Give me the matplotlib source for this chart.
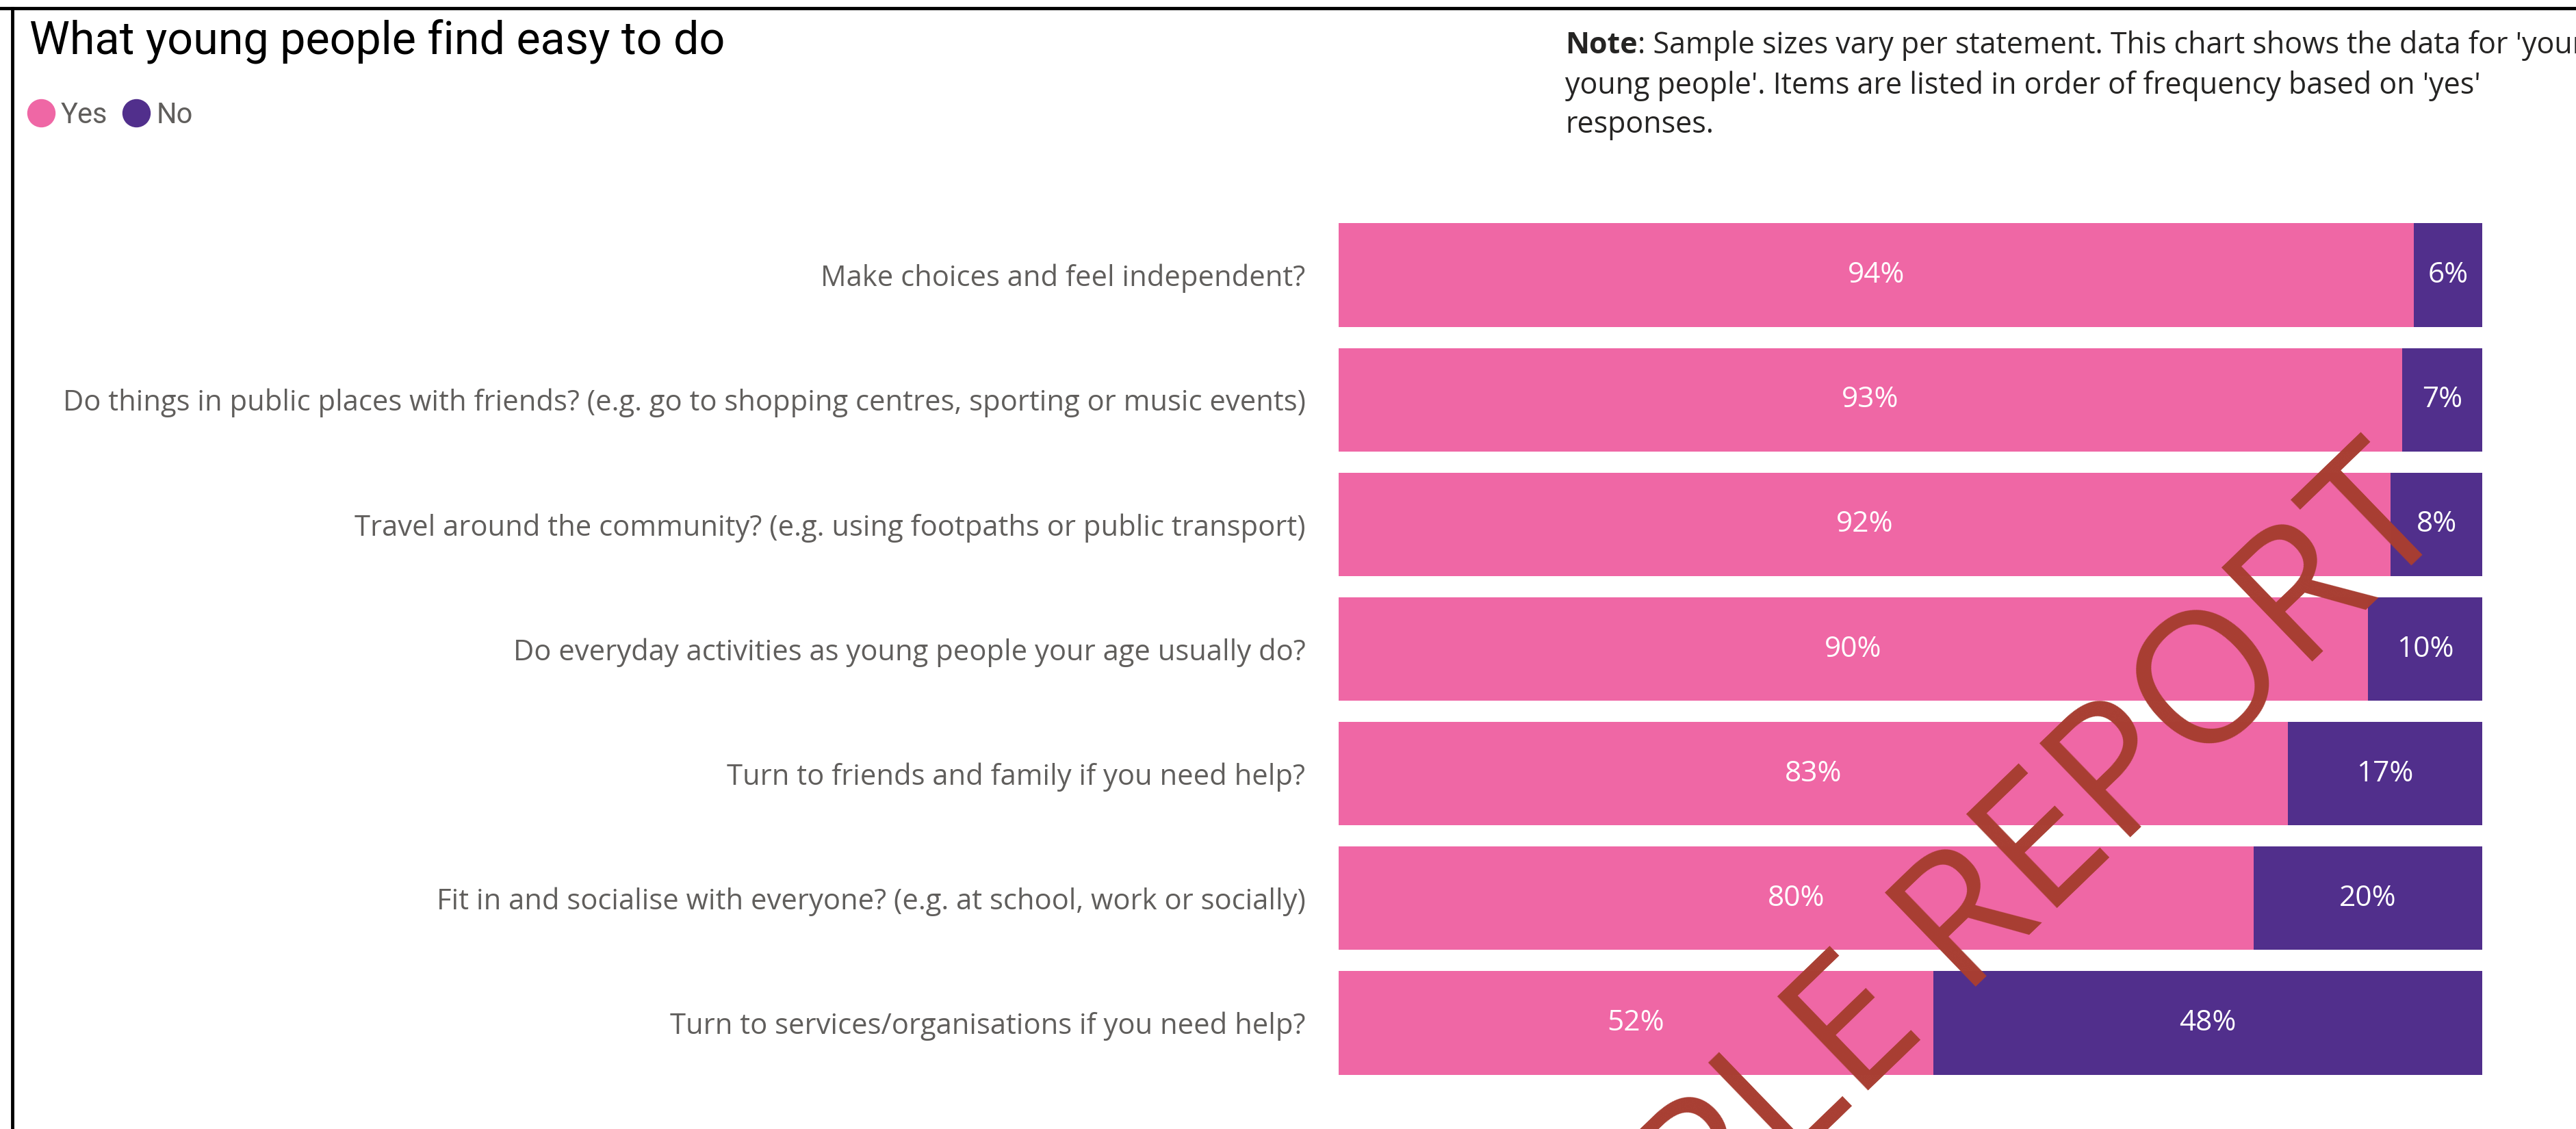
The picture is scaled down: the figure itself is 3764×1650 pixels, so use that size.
import matplotlib
matplotlib.use("Agg")
import matplotlib.pyplot as plt
from matplotlib.lines import Line2D

# data
categories = [
    "Make choices and feel independent?",
    "Do things in public places with friends? (e.g. go to shopping centres, sporting or music events)",
    "Travel around the community? (e.g. using footpaths or public transport)",
    "Do everyday activities as young people your age usually do?",
    "Turn to friends and family if you need help?",
    "Fit in and socialise with everyone? (e.g. at school, work or socially)",
    "Turn to services/organisations if you need help?",
]
yes = [94, 93, 92, 90, 83, 80, 52]
no = [6, 7, 8, 10, 17, 20, 48]
series_names = ["Yes", "No"]

pink = "#EF67A5"
purple = "#512F8C"
label_grey = "#605E5C"

W, H = 3764, 1650
fig = plt.figure(figsize=(W / 100, H / 100), dpi=100)

# bar axes
ax = fig.add_axes([1956 / W, 1 - 1586 / H, 1671 / W, 1275 / H])
y = list(range(len(categories)))
ax.barh(y, yes, height=0.83, color=pink)
ax.barh(y, no, left=yes, height=0.83, color=purple)
ax.set_xlim(0, 100)
ax.set_ylim(len(categories) - 0.5, -0.5)
ax.set_yticks(y)
ax.set_yticklabels(categories, fontsize=30.1, color=label_grey, family="Open Sans")
ax.tick_params(axis="y", length=0, pad=35)
ax.set_xticks([])
for s in ax.spines.values():
    s.set_visible(False)

for i in range(len(categories)):
    ax.text(yes[i] / 2, i, f"{yes[i]}%", ha="center", va="center",
            color="white", fontsize=30.5, family="Open Sans")
    ax.text(yes[i] + no[i] / 2, i, f"{no[i]}%", ha="center", va="center",
            color="white", fontsize=30.5, family="Open Sans")

# title + legend
fig.text(43 / W, 1 - 80 / H, "What young people find easy to do", fontsize=47.8,
         family="Roboto", color="black", ha="left", va="baseline")
handles = [Line2D([], [], marker="o", ls="", color=c, markersize=28.8)
           for c in (pink, purple)]
fig.legend(handles, series_names, loc="center left",
           bbox_to_anchor=(39 / W, 1 - 168 / H), ncol=2, frameon=False,
           handlelength=1.0, handletextpad=0.2, columnspacing=0.5,
           borderpad=0, borderaxespad=0, labelcolor=label_grey,
           prop={"family": "Roboto", "size": 30})

# note
note_x = 2287 / W
t0 = fig.text(note_x, 1 - 78 / H, "Note", fontsize=31, weight="bold",
              family="Open Sans", color="#252423", va="baseline")
fig.canvas.draw()
bb = t0.get_window_extent()
fig.text(bb.x1 / W, 1 - 78 / H,
         ": Sample sizes vary per statement. This chart shows the data for 'your",
         fontsize=31, family="Open Sans", color="#252423", va="baseline")
fig.text(note_x, 1 - 137 / H,
         "young people'. Items are listed in order of frequency based on 'yes'",
         fontsize=31, family="Open Sans", color="#252423", va="baseline")
fig.text(note_x, 1 - 194 / H, "responses.",
         fontsize=31, family="Open Sans", color="#252423", va="baseline")

# watermark
fig.text(3586 / W, 1 - 767 / H, "SAMPLE REPORT", fontsize=193, family="Open Sans",
         color="#A83E32", rotation=44, rotation_mode="anchor",
         ha="right", va="baseline", zorder=10)

# frame
fig.add_artist(Line2D([0, 1], [1 - 12 / H, 1 - 12 / H], color="black", lw=3.5,
                      transform=fig.transFigure))
fig.add_artist(Line2D([18 / W, 18 / W], [0, 1 - 12 / H], color="black", lw=3.5,
                      transform=fig.transFigure))

fig.savefig("out.png", dpi=100)
plt.close()
